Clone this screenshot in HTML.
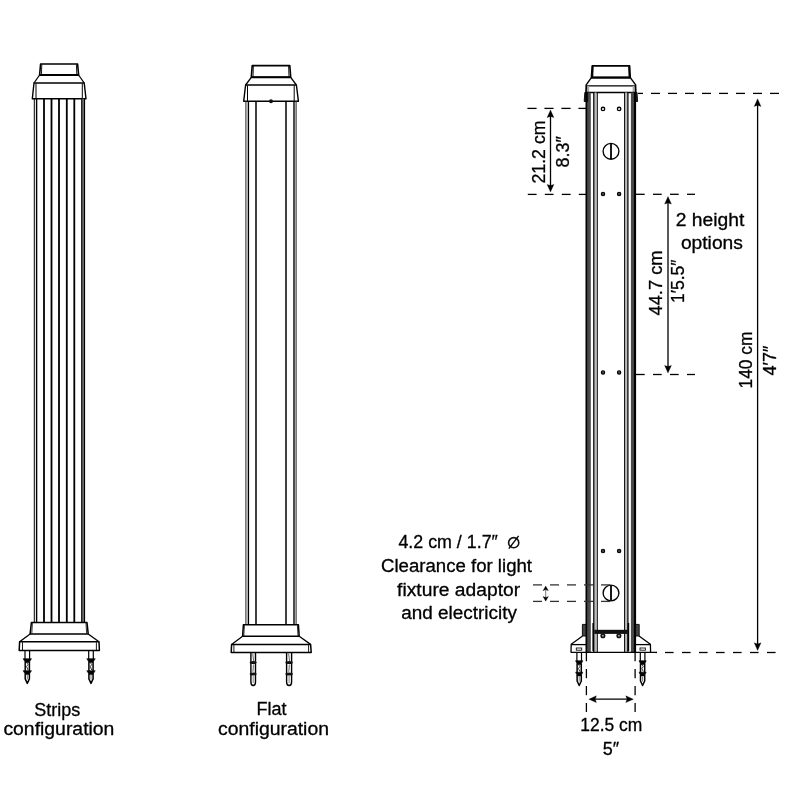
<!DOCTYPE html>
<html><head><meta charset="utf-8"><style>
html,body{margin:0;padding:0;background:#fff;}
body{width:800px;height:800px;overflow:hidden;position:relative;}
svg{position:absolute;left:0;top:0;will-change:transform;}
.t{font-family:"Liberation Sans",sans-serif;fill:#000;stroke:#000;stroke-width:0.3px;}
</style></head><body>
<svg width="800" height="800" viewBox="0 0 800 800">
<rect width="800" height="800" fill="#fff"/>
<path d="M40.6,64 L77.6,64 L78.6,75 L39.6,75 Z" stroke="#000" stroke-width="1.6" fill="none" stroke-linejoin="round"/>
<line x1="39.6" y1="75" x2="78.6" y2="75" stroke="#000" stroke-width="2.0" />
<line x1="41.8" y1="64.5" x2="41.4" y2="75" stroke="#000" stroke-width="0.9" />
<line x1="76.4" y1="64.5" x2="76.8" y2="75" stroke="#000" stroke-width="0.9" />
<line x1="39.6" y1="75" x2="34.0" y2="83" stroke="#000" stroke-width="1.3" />
<line x1="78.6" y1="75" x2="84.2" y2="83" stroke="#000" stroke-width="1.3" />
<path d="M34.0,83 L84.2,83 L86.0,98.8 L32.3,98.8 Z" stroke="#000" stroke-width="1.4" fill="none" stroke-linejoin="round"/>
<line x1="36.0" y1="83.5" x2="36.0" y2="98.5" stroke="#000" stroke-width="1.0" />
<line x1="82.3" y1="83.5" x2="82.3" y2="98.5" stroke="#000" stroke-width="1.0" />
<rect x="81.8" y="98.8" width="2.6" height="523.7" fill="#999"/>
<line x1="34.3" y1="98.8" x2="34.3" y2="622.5" stroke="#000" stroke-width="1.0" />
<line x1="36.6" y1="98.8" x2="36.6" y2="622.5" stroke="#000" stroke-width="1.4" />
<line x1="44.0" y1="98.8" x2="44.0" y2="622.5" stroke="#000" stroke-width="1.8" />
<line x1="51.5" y1="98.8" x2="51.5" y2="622.5" stroke="#000" stroke-width="1.8" />
<line x1="59.0" y1="98.8" x2="59.0" y2="622.5" stroke="#000" stroke-width="1.8" />
<line x1="66.8" y1="98.8" x2="66.8" y2="622.5" stroke="#000" stroke-width="1.8" />
<line x1="74.3" y1="98.8" x2="74.3" y2="622.5" stroke="#000" stroke-width="1.8" />
<line x1="81.8" y1="98.8" x2="81.8" y2="622.5" stroke="#000" stroke-width="1.3" />
<line x1="84.4" y1="98.8" x2="84.4" y2="622.5" stroke="#000" stroke-width="1.4" />
<path d="M31.4,622.5 L87.0,622.5 L88.2,633.9 L30.1,633.9 Z" stroke="#000" stroke-width="1.5" fill="none" stroke-linejoin="round"/>
<line x1="32.4" y1="623" x2="31.8" y2="633.5" stroke="#000" stroke-width="0.8" />
<line x1="86.0" y1="623" x2="86.6" y2="633.5" stroke="#000" stroke-width="0.8" />
<line x1="30.1" y1="633.9" x2="19.6" y2="641.8" stroke="#000" stroke-width="1.3" />
<line x1="88.2" y1="633.9" x2="99.0" y2="641.8" stroke="#000" stroke-width="1.3" />
<path d="M19.6,641.8 L99.0,641.8 L99.4,650.4 L19.2,650.4 Z" stroke="#000" stroke-width="1.5" fill="none" stroke-linejoin="round"/>
<line x1="22.5" y1="642.3" x2="22.5" y2="650" stroke="#000" stroke-width="0.9" />
<line x1="96.4" y1="642.3" x2="96.4" y2="650" stroke="#000" stroke-width="0.9" />
<line x1="25.0" y1="650.4" x2="25.0" y2="660" stroke="#000" stroke-width="1.2" />
<line x1="29.6" y1="650.4" x2="29.6" y2="660" stroke="#000" stroke-width="1.2" />
<path d="M23.1,658.7 L31.5,658.7 L29.1,662.4 L25.5,662.4 Z" stroke="#000" stroke-width="0.6" fill="#000" stroke-linejoin="round"/>
<path d="M23.1,670.7 L31.5,670.7 L29.1,674.4 L25.5,674.4 Z" stroke="#000" stroke-width="0.6" fill="#000" stroke-linejoin="round"/>
<line x1="25.2" y1="661.5" x2="25.2" y2="671.5" stroke="#000" stroke-width="1.5" />
<line x1="29.400000000000002" y1="661.5" x2="29.400000000000002" y2="671.5" stroke="#000" stroke-width="1.5" />
<path d="M26.6,662.5 L28.0,664.5 L26.6,666.5 L28.0,670" stroke="#000" stroke-width="0.8" fill="none" stroke-linejoin="round"/>
<path d="M25.2,673.5 L25.2,678.9 L27.3,683.4 L29.400000000000002,678.9 L29.400000000000002,673.5" stroke="#000" stroke-width="1.5" fill="none" stroke-linejoin="round"/>
<line x1="27.3" y1="675" x2="27.3" y2="679.4" stroke="#555" stroke-width="0.8" />
<line x1="88.7" y1="650.4" x2="88.7" y2="660" stroke="#000" stroke-width="1.2" />
<line x1="93.3" y1="650.4" x2="93.3" y2="660" stroke="#000" stroke-width="1.2" />
<path d="M86.8,658.7 L95.2,658.7 L92.8,662.4 L89.2,662.4 Z" stroke="#000" stroke-width="0.6" fill="#000" stroke-linejoin="round"/>
<path d="M86.8,670.7 L95.2,670.7 L92.8,674.4 L89.2,674.4 Z" stroke="#000" stroke-width="0.6" fill="#000" stroke-linejoin="round"/>
<line x1="88.9" y1="661.5" x2="88.9" y2="671.5" stroke="#000" stroke-width="1.5" />
<line x1="93.1" y1="661.5" x2="93.1" y2="671.5" stroke="#000" stroke-width="1.5" />
<path d="M90.3,662.5 L91.7,664.5 L90.3,666.5 L91.7,670" stroke="#000" stroke-width="0.8" fill="none" stroke-linejoin="round"/>
<path d="M88.9,673.5 L88.9,678.9 L91.0,683.4 L93.1,678.9 L93.1,673.5" stroke="#000" stroke-width="1.5" fill="none" stroke-linejoin="round"/>
<line x1="91.0" y1="675" x2="91.0" y2="679.4" stroke="#555" stroke-width="0.8" />
<path d="M252.2,65.6 L289.8,65.6 L290.7,77.3 L251.3,77.3 Z" stroke="#000" stroke-width="1.6" fill="none" stroke-linejoin="round"/>
<line x1="251.3" y1="77.3" x2="290.7" y2="77.3" stroke="#000" stroke-width="2.0" />
<line x1="253.4" y1="66" x2="253.0" y2="77" stroke="#000" stroke-width="0.9" />
<line x1="288.6" y1="66" x2="289.0" y2="77" stroke="#000" stroke-width="0.9" />
<line x1="251.3" y1="77.3" x2="245.6" y2="85" stroke="#000" stroke-width="1.3" />
<line x1="290.7" y1="77.3" x2="296.4" y2="85" stroke="#000" stroke-width="1.3" />
<path d="M245.6,85 L296.4,85 L298.4,101.2 L243.7,101.2 Z" stroke="#000" stroke-width="1.4" fill="none" stroke-linejoin="round"/>
<line x1="247.5" y1="85.5" x2="247.5" y2="101" stroke="#000" stroke-width="1.0" />
<line x1="294.2" y1="85.5" x2="294.2" y2="101" stroke="#000" stroke-width="1.0" />
<circle cx="271" cy="101.3" r="2.0" fill="#111"/>
<line x1="245.9" y1="101.2" x2="245.9" y2="624.8" stroke="#333" stroke-width="1.1" />
<line x1="248.4" y1="101.2" x2="248.4" y2="624.8" stroke="#000" stroke-width="1.4" />
<line x1="256.0" y1="101.2" x2="256.0" y2="624.8" stroke="#000" stroke-width="1.5" />
<line x1="286.0" y1="101.2" x2="286.0" y2="624.8" stroke="#000" stroke-width="1.5" />
<line x1="294.0" y1="101.2" x2="294.0" y2="624.8" stroke="#000" stroke-width="1.4" />
<line x1="296.1" y1="101.2" x2="296.1" y2="624.8" stroke="#333" stroke-width="1.1" />
<path d="M243.4,624.8 L298.4,624.8 L299.2,636.3 L242.6,636.3 Z" stroke="#000" stroke-width="1.5" fill="none" stroke-linejoin="round"/>
<line x1="244.4" y1="625.3" x2="243.8" y2="636" stroke="#000" stroke-width="0.8" />
<line x1="297.4" y1="625.3" x2="298.0" y2="636" stroke="#000" stroke-width="0.8" />
<line x1="242.6" y1="636.3" x2="231.6" y2="644.4" stroke="#000" stroke-width="1.3" />
<line x1="299.2" y1="636.3" x2="310.6" y2="644.4" stroke="#000" stroke-width="1.3" />
<path d="M231.6,644.4 L310.6,644.4 L311.2,652.5 L231.2,652.5 Z" stroke="#000" stroke-width="1.5" fill="none" stroke-linejoin="round"/>
<line x1="233.9" y1="645" x2="233.9" y2="652" stroke="#000" stroke-width="0.9" />
<line x1="308.6" y1="645" x2="308.6" y2="652" stroke="#000" stroke-width="0.9" />
<path d="M250.89999999999998,652.5 L250.89999999999998,682.0 Q250.89999999999998,685.5 253.2,685.5 Q255.5,685.5 255.5,682.0 L255.5,652.5" fill="none" stroke="#000" stroke-width="1.4"/>
<ellipse cx="253.2" cy="662.6" rx="3.5" ry="1.5" fill="#111"/>
<ellipse cx="253.2" cy="673.9" rx="3.5" ry="1.5" fill="#111"/>
<line x1="252.7" y1="653.5" x2="253.7" y2="661.1" stroke="#444" stroke-width="0.8" />
<line x1="253.5" y1="664.6" x2="252.89999999999998" y2="671.9" stroke="#444" stroke-width="0.8" />
<line x1="253.2" y1="675.9" x2="253.2" y2="683.0" stroke="#666" stroke-width="0.8" />
<path d="M286.6,652.5 L286.6,682.0 Q286.6,685.5 289.1,685.5 Q291.6,685.5 291.6,682.0 L291.6,652.5" fill="none" stroke="#000" stroke-width="1.4"/>
<ellipse cx="289.1" cy="662.6" rx="3.7" ry="1.5" fill="#111"/>
<ellipse cx="289.1" cy="673.9" rx="3.7" ry="1.5" fill="#111"/>
<line x1="288.6" y1="653.5" x2="289.6" y2="661.1" stroke="#444" stroke-width="0.8" />
<line x1="289.40000000000003" y1="664.6" x2="288.8" y2="671.9" stroke="#444" stroke-width="0.8" />
<line x1="289.1" y1="675.9" x2="289.1" y2="683.0" stroke="#666" stroke-width="0.8" />
<path d="M592.2,65.9 L629.6,65.9 L630.3,77.6 L591.4,77.6 Z" stroke="#000" stroke-width="1.6" fill="none" stroke-linejoin="round"/>
<line x1="592.9" y1="66.5" x2="592.4" y2="77" stroke="#000" stroke-width="1.6" />
<line x1="628.9" y1="66.5" x2="629.4" y2="77" stroke="#000" stroke-width="1.6" />
<line x1="591.4" y1="77.6" x2="630.3" y2="77.6" stroke="#000" stroke-width="2.0" />
<line x1="591.4" y1="77.6" x2="585.8" y2="85.4" stroke="#000" stroke-width="1.4" />
<line x1="630.3" y1="77.6" x2="636.0" y2="85.4" stroke="#000" stroke-width="1.4" />
<line x1="585.8" y1="85.9" x2="636.0" y2="85.9" stroke="#000" stroke-width="1.4" />
<rect x="587.0" y="85.9" width="2.2" height="6.6" fill="#aaa"/>
<rect x="632.6" y="85.9" width="2.2" height="6.6" fill="#aaa"/>
<line x1="586.3" y1="85.4" x2="586.0" y2="92.5" stroke="#000" stroke-width="1.7" />
<line x1="635.5" y1="85.4" x2="635.8" y2="92.5" stroke="#000" stroke-width="1.7" />
<path d="M584.8,92.5 L587.8,92.5 L587.8,101.5 L584.2,101.5 Z" stroke="#000" stroke-width="0.9" fill="#222" stroke-linejoin="round"/>
<path d="M637.0,92.5 L634.0,92.5 L634.0,101.5 L637.6,101.5 Z" stroke="#000" stroke-width="0.9" fill="#222" stroke-linejoin="round"/>
<line x1="586.0" y1="92.5" x2="635.8" y2="92.5" stroke="#000" stroke-width="1.3" />
<rect x="587.7" y="92.5" width="3.1" height="559.8" fill="#4a4a4a"/>
<rect x="630.9" y="92.5" width="3.1" height="559.8" fill="#4a4a4a"/>
<rect x="594.4" y="92.5" width="2.2" height="559.8" fill="#bbb"/>
<rect x="625.1" y="92.5" width="2.2" height="559.8" fill="#bbb"/>
<line x1="586.6" y1="92.5" x2="586.6" y2="652.3" stroke="#000" stroke-width="2.2" />
<line x1="593.8" y1="92.5" x2="593.8" y2="652.3" stroke="#000" stroke-width="1.3" />
<line x1="597.3" y1="92.5" x2="597.3" y2="652.3" stroke="#000" stroke-width="1.0" />
<line x1="624.6" y1="92.5" x2="624.6" y2="652.3" stroke="#000" stroke-width="1.0" />
<line x1="627.9" y1="92.5" x2="627.9" y2="652.3" stroke="#000" stroke-width="1.3" />
<line x1="635.0" y1="92.5" x2="635.0" y2="652.3" stroke="#000" stroke-width="2.2" />
<circle cx="603.0" cy="108.9" r="1.7" fill="#fff" stroke="#000" stroke-width="1.35"/>
<circle cx="603.0" cy="194.0" r="1.7" fill="#444" stroke="#000" stroke-width="1.1"/>
<circle cx="603.0" cy="372.5" r="1.7" fill="#444" stroke="#000" stroke-width="1.1"/>
<circle cx="603.0" cy="551.0" r="1.7" fill="#444" stroke="#000" stroke-width="1.1"/>
<circle cx="619.1" cy="108.9" r="1.7" fill="#fff" stroke="#000" stroke-width="1.35"/>
<circle cx="619.1" cy="194.0" r="1.7" fill="#444" stroke="#000" stroke-width="1.1"/>
<circle cx="619.1" cy="372.5" r="1.7" fill="#444" stroke="#000" stroke-width="1.1"/>
<circle cx="619.1" cy="551.0" r="1.7" fill="#444" stroke="#000" stroke-width="1.1"/>
<circle cx="611" cy="151.3" r="7.9" fill="#fff" stroke="#000" stroke-width="1.35"/>
<line x1="611" y1="143.5" x2="611" y2="159.10000000000002" stroke="#000" stroke-width="1.8" />
<circle cx="611" cy="593.0" r="7.9" fill="#fff" stroke="#000" stroke-width="1.35"/>
<line x1="611" y1="585.2" x2="611" y2="600.8" stroke="#000" stroke-width="1.8" />
<rect x="594.3" y="629.8" width="33.2" height="4.1" fill="#111"/>
<circle cx="602.9" cy="635.7" r="1.8" fill="#999" stroke="#111" stroke-width="1.5"/>
<circle cx="618.9" cy="635.7" r="1.8" fill="#999" stroke="#111" stroke-width="1.5"/>
<line x1="593.2" y1="623.0" x2="593.2" y2="651.0" stroke="#000" stroke-width="1.6" />
<line x1="628.4" y1="623.0" x2="628.4" y2="651.0" stroke="#000" stroke-width="1.6" />
<line x1="570.8" y1="652.4" x2="657.0" y2="652.4" stroke="#000" stroke-width="1.3" />
<path d="M582.4,624.4 L586.0,624.4 L586.0,636.0 L582.4,636.0 Z" stroke="#000" stroke-width="0.9" fill="#444" stroke-linejoin="round"/>
<path d="M582.6,636.0 L571.2,644.2 L571.0,652.4" stroke="#000" stroke-width="1.3" fill="none" stroke-linejoin="round"/>
<line x1="571.2" y1="644.6" x2="586.0" y2="644.6" stroke="#000" stroke-width="1.3" />
<rect x="576.3" y="648.0" width="5.4" height="2.2" fill="#fff"/>
<rect x="576.3" y="648.0" width="5.4" height="2.2" fill="none" stroke="#111" stroke-width="0.9"/>
<path d="M635.6,624.4 L639.2,624.4 L639.2,636.0 L635.6,636.0 Z" stroke="#000" stroke-width="0.9" fill="#444" stroke-linejoin="round"/>
<path d="M639.0,636.0 L650.4,644.2 L650.6,652.4" stroke="#000" stroke-width="1.3" fill="none" stroke-linejoin="round"/>
<line x1="635.6" y1="644.6" x2="650.4" y2="644.6" stroke="#000" stroke-width="1.3" />
<rect x="640.0" y="648.0" width="5.4" height="2.2" fill="none" stroke="#111" stroke-width="0.9"/>
<line x1="576.9000000000001" y1="652.4" x2="576.9000000000001" y2="662" stroke="#000" stroke-width="1.2" />
<line x1="581.5" y1="652.4" x2="581.5" y2="662" stroke="#000" stroke-width="1.2" />
<path d="M575.6,660.7 L582.8000000000001,660.7 L581.0,664.4 L577.4000000000001,664.4 Z" stroke="#000" stroke-width="0.6" fill="#000" stroke-linejoin="round"/>
<path d="M575.6,672.2 L582.8000000000001,672.2 L581.0,675.9 L577.4000000000001,675.9 Z" stroke="#000" stroke-width="0.6" fill="#000" stroke-linejoin="round"/>
<line x1="577.1000000000001" y1="663.5" x2="577.1000000000001" y2="673.0" stroke="#000" stroke-width="1.5" />
<line x1="581.3" y1="663.5" x2="581.3" y2="673.0" stroke="#000" stroke-width="1.5" />
<path d="M578.5,664.5 L579.9000000000001,666.5 L578.5,668.5 L579.9000000000001,671.5" stroke="#000" stroke-width="0.8" fill="none" stroke-linejoin="round"/>
<path d="M577.1000000000001,675.0 L577.1000000000001,681.0 L579.2,685.5 L581.3,681.0 L581.3,675.0" stroke="#000" stroke-width="1.5" fill="none" stroke-linejoin="round"/>
<line x1="579.2" y1="676.5" x2="579.2" y2="681.5" stroke="#555" stroke-width="0.8" />
<line x1="640.3000000000001" y1="652.4" x2="640.3000000000001" y2="662" stroke="#000" stroke-width="1.2" />
<line x1="644.9" y1="652.4" x2="644.9" y2="662" stroke="#000" stroke-width="1.2" />
<path d="M639.0,660.7 L646.2,660.7 L644.4,664.4 L640.8000000000001,664.4 Z" stroke="#000" stroke-width="0.6" fill="#000" stroke-linejoin="round"/>
<path d="M639.0,672.2 L646.2,672.2 L644.4,675.9 L640.8000000000001,675.9 Z" stroke="#000" stroke-width="0.6" fill="#000" stroke-linejoin="round"/>
<line x1="640.5000000000001" y1="663.5" x2="640.5000000000001" y2="673.0" stroke="#000" stroke-width="1.5" />
<line x1="644.6999999999999" y1="663.5" x2="644.6999999999999" y2="673.0" stroke="#000" stroke-width="1.5" />
<path d="M641.9,664.5 L643.3000000000001,666.5 L641.9,668.5 L643.3000000000001,671.5" stroke="#000" stroke-width="0.8" fill="none" stroke-linejoin="round"/>
<path d="M640.5000000000001,675.0 L640.5000000000001,681.0 L642.6,685.5 L644.6999999999999,681.0 L644.6999999999999,675.0" stroke="#000" stroke-width="1.5" fill="none" stroke-linejoin="round"/>
<line x1="642.6" y1="676.5" x2="642.6" y2="681.5" stroke="#555" stroke-width="0.8" />
<line x1="638.0" y1="93.4" x2="643.0" y2="93.4" stroke="#000" stroke-width="1.3" />
<line x1="651.0" y1="93.4" x2="660.0" y2="93.4" stroke="#000" stroke-width="1.3" />
<line x1="668.0" y1="93.4" x2="677.0" y2="93.4" stroke="#000" stroke-width="1.3" />
<line x1="685.0" y1="93.4" x2="694.0" y2="93.4" stroke="#000" stroke-width="1.3" />
<line x1="702.0" y1="93.4" x2="711.0" y2="93.4" stroke="#000" stroke-width="1.3" />
<line x1="719.0" y1="93.4" x2="728.0" y2="93.4" stroke="#000" stroke-width="1.3" />
<line x1="736.0" y1="93.4" x2="745.0" y2="93.4" stroke="#000" stroke-width="1.3" />
<line x1="753.0" y1="93.4" x2="762.0" y2="93.4" stroke="#000" stroke-width="1.3" />
<line x1="770.0" y1="93.4" x2="779.0" y2="93.4" stroke="#000" stroke-width="1.3" />
<line x1="527.4" y1="108.4" x2="536.6" y2="108.4" stroke="#000" stroke-width="1.3" />
<line x1="544.4" y1="108.4" x2="553.6" y2="108.4" stroke="#000" stroke-width="1.3" />
<line x1="561.4" y1="108.4" x2="570.6" y2="108.4" stroke="#000" stroke-width="1.3" />
<line x1="578.4" y1="108.4" x2="586.0" y2="108.4" stroke="#000" stroke-width="1.3" />
<line x1="527.8" y1="194.4" x2="536.6" y2="194.4" stroke="#000" stroke-width="1.3" />
<line x1="544.8" y1="194.4" x2="553.6" y2="194.4" stroke="#000" stroke-width="1.3" />
<line x1="561.8" y1="194.4" x2="570.6" y2="194.4" stroke="#000" stroke-width="1.3" />
<line x1="578.8" y1="194.4" x2="586.0" y2="194.4" stroke="#000" stroke-width="1.3" />
<line x1="636.0" y1="194.3" x2="644.7" y2="194.3" stroke="#000" stroke-width="1.3" />
<line x1="653.0" y1="194.3" x2="661.7" y2="194.3" stroke="#000" stroke-width="1.3" />
<line x1="670.0" y1="194.3" x2="678.7" y2="194.3" stroke="#000" stroke-width="1.3" />
<line x1="687.0" y1="194.3" x2="695.0" y2="194.3" stroke="#000" stroke-width="1.3" />
<line x1="636.0" y1="374.5" x2="644.7" y2="374.5" stroke="#000" stroke-width="1.3" />
<line x1="653.0" y1="374.5" x2="661.7" y2="374.5" stroke="#000" stroke-width="1.3" />
<line x1="670.0" y1="374.5" x2="678.7" y2="374.5" stroke="#000" stroke-width="1.3" />
<line x1="687.0" y1="374.5" x2="695.0" y2="374.5" stroke="#000" stroke-width="1.3" />
<line x1="533.0" y1="584.9" x2="542.0" y2="584.9" stroke="#333" stroke-width="1.3" />
<line x1="550.0" y1="584.9" x2="559.0" y2="584.9" stroke="#333" stroke-width="1.3" />
<line x1="567.0" y1="584.9" x2="576.0" y2="584.9" stroke="#333" stroke-width="1.3" />
<line x1="584.0" y1="584.9" x2="593.0" y2="584.9" stroke="#333" stroke-width="1.3" />
<line x1="601.0" y1="584.9" x2="610.0" y2="584.9" stroke="#333" stroke-width="1.3" />
<line x1="533.0" y1="601.4" x2="542.0" y2="601.4" stroke="#333" stroke-width="1.3" />
<line x1="550.0" y1="601.4" x2="559.0" y2="601.4" stroke="#333" stroke-width="1.3" />
<line x1="567.0" y1="601.4" x2="576.0" y2="601.4" stroke="#333" stroke-width="1.3" />
<line x1="584.0" y1="601.4" x2="593.0" y2="601.4" stroke="#333" stroke-width="1.3" />
<line x1="601.0" y1="601.4" x2="610.0" y2="601.4" stroke="#333" stroke-width="1.3" />
<line x1="656.0" y1="652.5" x2="656.6" y2="652.5" stroke="#000" stroke-width="1.3" />
<line x1="665.0" y1="652.5" x2="673.6" y2="652.5" stroke="#000" stroke-width="1.3" />
<line x1="682.0" y1="652.5" x2="690.6" y2="652.5" stroke="#000" stroke-width="1.3" />
<line x1="699.0" y1="652.5" x2="707.6" y2="652.5" stroke="#000" stroke-width="1.3" />
<line x1="716.0" y1="652.5" x2="724.6" y2="652.5" stroke="#000" stroke-width="1.3" />
<line x1="733.0" y1="652.5" x2="741.6" y2="652.5" stroke="#000" stroke-width="1.3" />
<line x1="750.0" y1="652.5" x2="758.6" y2="652.5" stroke="#000" stroke-width="1.3" />
<line x1="767.0" y1="652.5" x2="775.6" y2="652.5" stroke="#000" stroke-width="1.3" />
<line x1="586.4" y1="652.0" x2="586.4" y2="661.2" stroke="#000" stroke-width="1.3" />
<line x1="586.4" y1="669.0" x2="586.4" y2="678.2" stroke="#000" stroke-width="1.3" />
<line x1="586.4" y1="686.0" x2="586.4" y2="695.2" stroke="#000" stroke-width="1.3" />
<line x1="586.4" y1="703.0" x2="586.4" y2="712.0" stroke="#000" stroke-width="1.3" />
<line x1="635.1" y1="652.0" x2="635.1" y2="661.2" stroke="#000" stroke-width="1.3" />
<line x1="635.1" y1="669.0" x2="635.1" y2="678.2" stroke="#000" stroke-width="1.3" />
<line x1="635.1" y1="686.0" x2="635.1" y2="695.2" stroke="#000" stroke-width="1.3" />
<line x1="635.1" y1="703.0" x2="635.1" y2="712.0" stroke="#000" stroke-width="1.3" />
<line x1="550.5" y1="113.0" x2="550.5" y2="189.0" stroke="#000" stroke-width="1.3" />
<path d="M550.5,110.0 L553.9,117.6 L550.5,116.39999999999999 L547.1,117.6 Z" stroke="#000" stroke-width="0.3" fill="#000" stroke-linejoin="round"/>
<path d="M550.5,192.0 L553.9,184.4 L550.5,185.6 L547.1,184.4 Z" stroke="#000" stroke-width="0.3" fill="#000" stroke-linejoin="round"/>
<line x1="668.0" y1="199.5" x2="668.0" y2="370.0" stroke="#000" stroke-width="1.3" />
<path d="M668.0,196.5 L671.4,204.1 L668.0,202.9 L664.6,204.1 Z" stroke="#000" stroke-width="0.3" fill="#000" stroke-linejoin="round"/>
<path d="M668.0,373.0 L671.4,365.4 L668.0,366.59999999999997 L664.6,365.4 Z" stroke="#000" stroke-width="0.3" fill="#000" stroke-linejoin="round"/>
<line x1="757.6" y1="101.8" x2="757.6" y2="647.4" stroke="#000" stroke-width="1.3" />
<path d="M757.6,98.8 L761.0,106.39999999999999 L757.6,105.19999999999999 L754.2,106.39999999999999 Z" stroke="#000" stroke-width="0.3" fill="#000" stroke-linejoin="round"/>
<path d="M757.6,650.4 L761.0,642.8 L757.6,644.0 L754.2,642.8 Z" stroke="#000" stroke-width="0.3" fill="#000" stroke-linejoin="round"/>
<line x1="545.7" y1="589" x2="545.7" y2="598" stroke="#777" stroke-width="1.0" />
<path d="M545.7,585.9 L548.4000000000001,590.6999999999999 L545.7,589.4999999999999 L543.0,590.6999999999999 Z" stroke="#000" stroke-width="0.3" fill="#000" stroke-linejoin="round"/>
<path d="M545.7,601.2 L548.4000000000001,596.4000000000001 L545.7,597.6000000000001 L543.0,596.4000000000001 Z" stroke="#000" stroke-width="0.3" fill="#000" stroke-linejoin="round"/>
<line x1="591" y1="699.2" x2="631" y2="699.2" stroke="#000" stroke-width="1.3" />
<path d="M588.8,699.2 L596.4,695.8000000000001 L595.1999999999999,699.2 L596.4,702.6 Z" stroke="#000" stroke-width="0.3" fill="#000" stroke-linejoin="round"/>
<path d="M633.4,699.2 L625.8,695.8000000000001 L627.0,699.2 L625.8,702.6 Z" stroke="#000" stroke-width="0.3" fill="#000" stroke-linejoin="round"/>
<text class="t" x="57.3" y="716" font-size="18" text-anchor="middle">Strips</text>
<text class="t" x="58.9" y="735.1" font-size="18" text-anchor="middle" textLength="111" lengthAdjust="spacingAndGlyphs">configuration</text>
<text class="t" x="271.4" y="715.4" font-size="18" text-anchor="middle">Flat</text>
<text class="t" x="273.5" y="734.5" font-size="18" text-anchor="middle" textLength="111" lengthAdjust="spacingAndGlyphs">configuration</text>
<text class="t" x="398.4" y="547.8" font-size="18" text-anchor="start" textLength="99.5" lengthAdjust="spacingAndGlyphs">4.2 cm / 1.7″</text>
<circle cx="513.7" cy="542.7" r="5.1" fill="none" stroke="#111" stroke-width="1.6"/>
<line x1="518.6" y1="535.9" x2="508.9" y2="548.6" stroke="#000" stroke-width="1.4" />
<text class="t" x="456.5" y="572.0" font-size="18" text-anchor="middle" textLength="151" lengthAdjust="spacingAndGlyphs">Clearance for light</text>
<text class="t" x="458.6" y="595.7" font-size="18" text-anchor="middle" textLength="123" lengthAdjust="spacingAndGlyphs">fixture adaptor</text>
<text class="t" x="459.1" y="619.1" font-size="18" text-anchor="middle" textLength="115.5" lengthAdjust="spacingAndGlyphs">and electricity</text>
<text class="t" x="710" y="226.3" font-size="18" text-anchor="middle" textLength="68.5" lengthAdjust="spacingAndGlyphs">2 height</text>
<text class="t" x="711.9" y="248.6" font-size="18" text-anchor="middle" textLength="62" lengthAdjust="spacingAndGlyphs">options</text>
<text class="t" x="611.3" y="731" font-size="18" text-anchor="middle" textLength="62" lengthAdjust="spacingAndGlyphs">12.5 cm</text>
<text class="t" x="611" y="754.8" font-size="18" text-anchor="middle">5″</text>
<text class="t" transform="translate(544.6,152) rotate(-90)" x="0" y="0" font-size="18" text-anchor="middle" textLength="63" lengthAdjust="spacingAndGlyphs">21.2 cm</text>
<text class="t" transform="translate(568.6,151.7) rotate(-90)" x="0" y="0" font-size="18" text-anchor="middle">8.3″</text>
<text class="t" transform="translate(662,283) rotate(-90)" x="0" y="0" font-size="18" text-anchor="middle" textLength="65" lengthAdjust="spacingAndGlyphs">44.7 cm</text>
<text class="t" transform="translate(683.7,281.3) rotate(-90)" x="0" y="0" font-size="18" text-anchor="middle" textLength="43.5" lengthAdjust="spacingAndGlyphs">1′5.5″</text>
<text class="t" transform="translate(751.9,360) rotate(-90)" x="0" y="0" font-size="18" text-anchor="middle" textLength="57" lengthAdjust="spacingAndGlyphs">140 cm</text>
<text class="t" transform="translate(776.2,360.6) rotate(-90)" x="0" y="0" font-size="18" text-anchor="middle">4′7″</text>
</svg>
</body></html>
